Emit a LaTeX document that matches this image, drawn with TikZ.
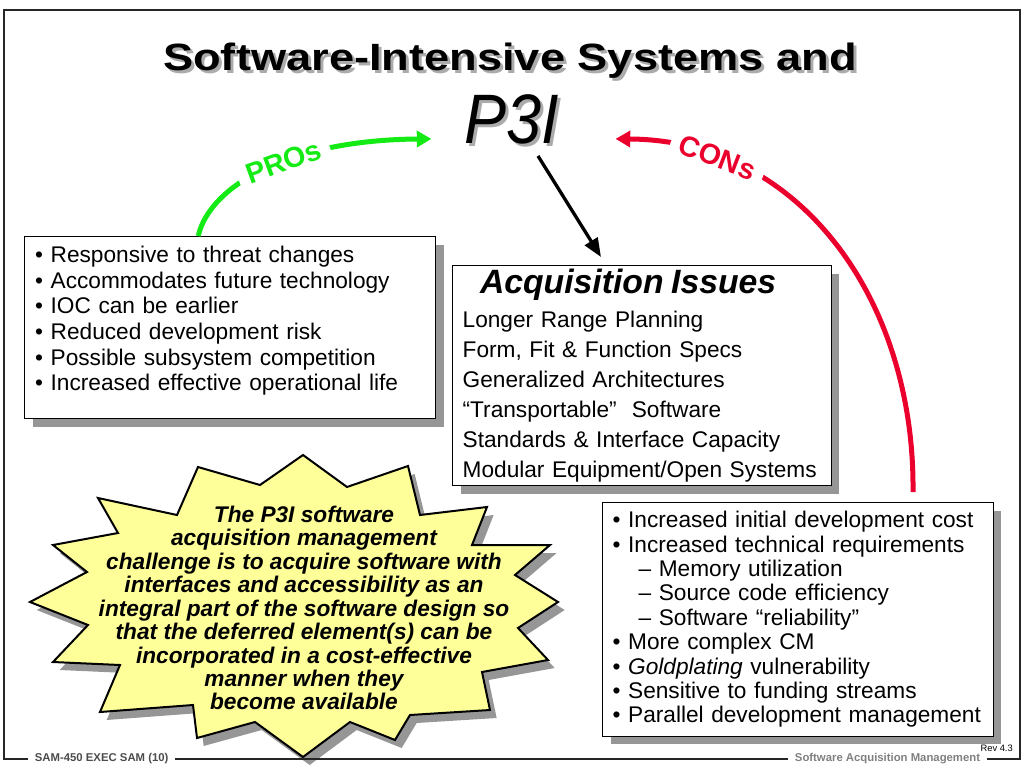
\documentclass[tikz,border=0pt]{standalone}
\usepackage{fontspec}
\setmainfont{Liberation Sans}
\newfontfamily\titlefont[FakeStretch=1.19]{Liberation Sans}
\newfontfamily\pthreefont[FakeStretch=0.9]{Liberation Sans}
\usetikzlibrary{arrows.meta,shadows,calc}
\definecolor{proGreen}{RGB}{20,235,20}
\definecolor{conRed}{RGB}{235,0,45}
\definecolor{starYellow}{RGB}{255,255,153}
\definecolor{shadowGray}{RGB}{150,150,150}

\begin{document}
\begin{tikzpicture}[x=0.75pt, y=-0.75pt,
          listbox/.style={draw=black, line width=1pt, fill=white, anchor=north west, align=left,
            drop shadow={shadow xshift=6pt, shadow yshift=-6pt, fill=shadowGray, opacity=1},
            font=\fontsize{17}{19.2}\selectfont},
          curved/.style={line width=3.75pt, -{Triangle[length=11pt,width=12pt]}},
          tag/.style={fill=white, sloped, inner xsep=7pt, inner ysep=1pt, font=\fontsize{21.5}{25}\selectfont\bfseries},
          footer/.style={font=\fontsize{8.5}{10}\selectfont\bfseries, inner xsep=5pt}]
\useasboundingbox (0,0) rectangle (1024,768);

% heading
\node[anchor=base, text=shadowGray!80, font=\titlefont\fontsize{28.5}{34}\selectfont\bfseries] (titleshadow) at (513,73) {Software-Intensive Systems and};
\node[anchor=base, font=\titlefont\fontsize{28.5}{34}\selectfont\bfseries] (title) at (510,70) {Software-Intensive Systems and};
\node[anchor=base, inner sep=0pt, text=shadowGray!80, font=\pthreefont\fontsize{52.5}{60}\selectfont\itshape] (p3ishadow) at (515,146) {P3I};
\node[anchor=base, inner sep=0pt, font=\pthreefont\fontsize{52.5}{60}\selectfont\itshape] (p3i) at (512,143) {P3I};

% the three boxes
\node[listbox, text width=292.5pt, inner xsep=7.9pt, inner ysep=7.2pt, text depth=109.8pt] (pros) at (24,236)
  {• Responsive to threat changes\\
   • Accommodates future technology\\
   • IOC can be earlier\\
   • Reduced development risk\\
   • Possible subsystem competition\\
   • Increased effective operational life};
\node[listbox, text width=269pt, inner xsep=7.5pt, inner ysep=2.6pt, font=\fontsize{17}{22.5}\selectfont] (acq) at (452,265)
  {\hspace*{13pt}{\fontsize{25.3}{30}\selectfont\bfseries\itshape Acquisition Issues}\\[3pt]
   Longer Range Planning\\
   Form, Fit \& Function Specs\\
   Generalized Architectures\\
   “Transportable”\ \ Software\\
   Standards \& Interface Capacity\\
   Modular Equipment/Open Systems};
\node[listbox, text width=278pt, inner xsep=7.5pt, inner ysep=6.5pt, font=\fontsize{17}{18.3}\selectfont] (cons) at (602,502)
  {• Increased initial development cost\\
   • Increased technical requirements\\
   \hspace*{19.5pt}– Memory utilization\\
   \hspace*{19.5pt}– Source code efficiency\\
   \hspace*{19.5pt}– Software “reliability”\\
   • More complex CM\\
   • \textit{Goldplating} vulnerability\\
   • Sensitive to funding streams\\
   • Parallel development management};

% starburst
\draw[fill=starYellow, line width=1.5pt, line join=miter,
      drop shadow={shadow xshift=5pt, shadow yshift=-6pt, fill=shadowGray, opacity=1}]
  (303,455) -- (347,487) -- (408,466) -- (420,515) -- (487,507) -- (472,545)
  -- (550,545) -- (515,575) -- (558,602) -- (518,628) -- (548,660) -- (482,672)
  -- (490,710) -- (410,715) -- (395,740) -- (350,722) -- (303,757) -- (255,722)
  -- (197,738) -- (193,705) -- (100,712) -- (120,665) -- (53,662) -- (88,625)
  -- (30,602) -- (87,572) -- (53,545) -- (118,533) -- (98,498) -- (177,515)
  -- (198,467) -- (260,485) -- cycle;
\node[align=center, font=\fontsize{17}{17.6}\selectfont\bfseries\itshape] (challenge) at (304,608)
  {The P3I software\\
   acquisition management\\
   challenge is to acquire software with\\
   interfaces and accessibility as an\\
   integral part of the software design so\\
   that the deferred element(s) can be\\
   incorporated in a cost-effective\\
   manner when they\\
   become available};

% arrows
\draw[curved, proGreen] ($(pros.north)+(-32,0)$) .. controls (210,185) and (290,140) .. ($(p3i.west)+(-33,20)$)
  node[tag, pos=0.57] (prolabel) {PROs};
\draw[curved, conRed] ($(cons.north)+(115,-10)$) .. controls (915,300) and (800,140) .. ($(p3i.east)+(56,20)$)
  node[tag, pos=0.8] (conlabel) {CONs};
\draw[line width=2.5pt, -{Triangle[length=14pt,width=11pt]}] ($(p3i.south)+(26,12)$) -- ($(acq.north)+(-41,-8)$);

% footer and frame
\node[footer, text=black!70, anchor=west] (docid) at (28,759) {SAM-450 EXEC SAM (10)};
\node[footer, text=black!50, anchor=east] (course) at (987,759) {Software Acquisition Management};
\node[anchor=east, inner sep=0pt, font=\fontsize{7}{8}\selectfont] (rev) at (1013,748) {Rev 4.3};
\draw[line width=1.1pt, black!85] (docid.west) -- (4,759) -- (4,10) -- (1020,10) -- (1020,759) -- (course.east);
\draw[line width=1.1pt, black!85] (docid.east) -- (course.west);
\end{tikzpicture}
\end{document}
